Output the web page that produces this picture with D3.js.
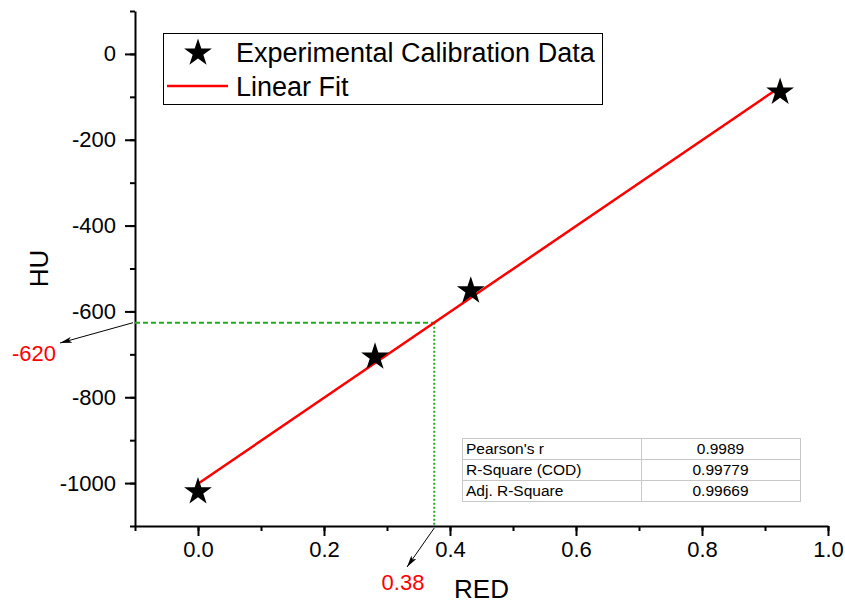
<!DOCTYPE html>
<html>
<head>
<meta charset="utf-8">
<script src="https://cdn.jsdelivr.net/npm/d3@7"></script>
<style>
  body { margin: 0; background: #fff; }
  text { font-family: "Liberation Sans", Arial, sans-serif; }
</style>
</head>
<body>
<div id="chart"></div>
<script>
// data
const redValues = [0.0, 0.281, 0.433, 0.924];
const huValues = [-1020, -706, -552, -89];
const xTicks = [0, 0.2, 0.4, 0.6, 0.8, 1.0];
const yTicks = [0, -200, -400, -600, -800, -1000];
const statNames = ["Pearson's r", "R-Square (COD)", "Adj. R-Square"];
const statValues = ["0.9989", "0.99779", "0.99669"];
const legendNames = ["Experimental Calibration Data", "Linear Fit"];
const readRed = [0.375];       // where the dotted guide hits the axis
const readLabels = ["0.38", "-620"];

const W = 845, H = 605;
const svg = d3.select("#chart").append("svg")
    .attr("width", W).attr("height", H);

const x = d3.scaleLinear().domain([-0.1, 1.0]).range([135, 828]);
const y = d3.scaleLinear().domain([-1100, 100]).range([526, 11]);

// least squares fit
const mx = d3.mean(redValues), my = d3.mean(huValues);
let sxy = 0, sxx = 0;
redValues.forEach((v, i) => { sxy += (v - mx) * (huValues[i] - my); sxx += (v - mx) ** 2; });
const slope = sxy / sxx, icpt = my - slope * mx;
const fit = v => icpt + slope * v;

const defs = svg.append("defs");
defs.append("marker").attr("id", "arr")
    .attr("viewBox", "0 0 12 6").attr("refX", 12).attr("refY", 3)
    .attr("markerWidth", 12).attr("markerHeight", 6)
    .attr("markerUnits", "userSpaceOnUse").attr("orient", "auto")
  .append("path").attr("d", "M0,0L12,3L0,6L3,3Z").attr("fill", "#000");

const hyph = d => d3.format("d")(d).replace("\u2212", "-");

// axes
const xAxis = svg.append("g").attr("transform", `translate(0,${y(-1100)})`);
xAxis.call(d3.axisBottom(x).tickValues(d3.range(-0.1, 1.001, 0.1)).tickFormat("").tickSize(5).tickSizeOuter(0));
xAxis.append("g").call(d3.axisBottom(x).tickValues(xTicks).tickFormat(d3.format(".1f")).tickSize(10).tickSizeOuter(0).tickPadding(5));
xAxis.selectAll("path.domain").attr("stroke-width", 2);
xAxis.selectAll("line").attr("stroke-width", 2);
xAxis.selectAll("text").attr("font-size", 22).attr("fill", "#000")
    .attr("font-family", "Liberation Sans, Arial, sans-serif");

const yAxis = svg.append("g").attr("transform", `translate(${x(-0.1)},0)`);
yAxis.call(d3.axisLeft(y).tickValues(d3.range(-1100, 101, 100)).tickFormat("").tickSize(5).tickSizeOuter(0));
yAxis.append("g").call(d3.axisLeft(y).tickValues(yTicks).tickFormat(hyph).tickSize(10).tickSizeOuter(0).tickPadding(9));
yAxis.selectAll("path.domain").attr("stroke-width", 2);
yAxis.selectAll("line").attr("stroke-width", 2);
yAxis.selectAll("text").attr("font-size", 22).attr("fill", "#000")
    .attr("font-family", "Liberation Sans, Arial, sans-serif");
xAxis.select("g path.domain").remove();
yAxis.select("g path.domain").remove();

svg.append("text").attr("transform", `translate(48,${(y(100) + y(-1100)) / 2}) rotate(-90)`)
    .attr("text-anchor", "middle").attr("font-size", 26).text("HU");
svg.append("text").attr("x", (x(-0.1) + x(1.0)) / 2).attr("y", 598)
    .attr("text-anchor", "middle").attr("font-size", 26).text("RED");

// guide lines
const gx = x(readRed[0]), gy = y(fit(readRed[0]));
svg.append("line").attr("x1", x(-0.1)).attr("x2", gx).attr("y1", gy).attr("y2", gy)
    .attr("stroke", "#22aa22").attr("stroke-width", 2).attr("stroke-dasharray", "5,3");
svg.append("line").attr("x1", gx).attr("x2", gx).attr("y1", gy).attr("y2", y(-1100))
    .attr("stroke", "#22aa22").attr("stroke-width", 2).attr("stroke-dasharray", "2,2");

// fit line
svg.append("line")
    .attr("x1", x(d3.min(redValues))).attr("y1", y(fit(d3.min(redValues))))
    .attr("x2", x(d3.max(redValues))).attr("y2", y(fit(d3.max(redValues))))
    .attr("stroke", "#ff0000").attr("stroke-width", 2.5);

// stars
const star = d3.symbol().type(d3.symbolStar).size(240);
svg.append("g").selectAll("path").data(redValues).join("path")
    .attr("transform", (d, i) => `translate(${x(d)},${y(huValues[i])})`)
    .attr("d", star).attr("fill", "#000");

// arrows + labels
svg.append("line").attr("x1", x(-0.1) - 2).attr("y1", gy).attr("x2", 60).attr("y2", 343)
    .attr("stroke", "#000").attr("stroke-width", 1).attr("marker-end", "url(#arr)");
svg.append("text").attr("x", 34).attr("y", 361).attr("text-anchor", "middle")
    .attr("font-size", 22).attr("fill", "#ff0000").text(readLabels[1]);
svg.append("line").attr("x1", gx).attr("y1", y(-1100) + 2).attr("x2", 407).attr("y2", 567)
    .attr("stroke", "#000").attr("stroke-width", 1).attr("marker-end", "url(#arr)");
svg.append("text").attr("x", 403).attr("y", 590).attr("text-anchor", "middle")
    .attr("font-size", 22).attr("fill", "#ff0000").text(readLabels[0]);

// legend
const lg = svg.append("g");
lg.append("rect").attr("x", 163.5).attr("y", 33.5).attr("width", 439).attr("height", 71)
    .attr("fill", "#fff").attr("stroke", "#000").attr("stroke-width", 1);
lg.append("path").attr("transform", "translate(198,53)").attr("d", star).attr("fill", "#000");
lg.append("line").attr("x1", 167).attr("x2", 228).attr("y1", 86).attr("y2", 86)
    .attr("stroke", "#ff0000").attr("stroke-width", 2.5);
lg.selectAll("text").data(legendNames).join("text")
    .attr("x", 236).attr("y", (d, i) => 62 + i * 34)
    .attr("font-size", 27).text(d => d);

// stats table
const tb = svg.append("g");
const rowH = 21, tx0 = 462, tx1 = 800, tdiv = 641, ty0 = 438;
tb.append("rect").attr("x", tx0 + 0.5).attr("y", ty0 + 0.5)
    .attr("width", tx1 - tx0).attr("height", rowH * statNames.length)
    .attr("fill", "#fff").attr("stroke", "#c8c8c8");
tb.append("line").attr("x1", tdiv + 0.5).attr("x2", tdiv + 0.5).attr("y1", ty0).attr("y2", ty0 + rowH * 3)
    .attr("stroke", "#c8c8c8");
statNames.forEach((n, i) => {
  if (i > 0) tb.append("line").attr("x1", tx0).attr("x2", tx1)
      .attr("y1", ty0 + i * rowH + 0.5).attr("y2", ty0 + i * rowH + 0.5).attr("stroke", "#c8c8c8");
  tb.append("text").attr("x", tx0 + 4).attr("y", ty0 + i * rowH + 16)
      .attr("font-size", 15.5).text(n);
  tb.append("text").attr("x", (tdiv + tx1) / 2).attr("y", ty0 + i * rowH + 16)
      .attr("text-anchor", "middle").attr("font-size", 15.5).text(statValues[i]);
});
</script>
</body>
</html>
